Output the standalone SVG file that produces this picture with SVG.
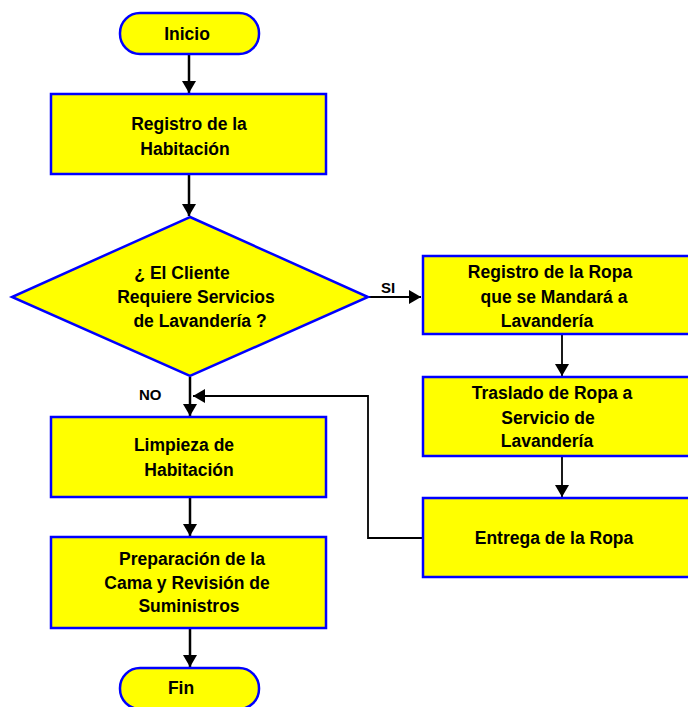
<svg xmlns="http://www.w3.org/2000/svg" width="688" height="707" viewBox="0 0 688 707">
<defs>
<marker id="ah" viewBox="0 0 12 14" refX="12" refY="7" markerWidth="12" markerHeight="14" markerUnits="userSpaceOnUse" orient="auto">
<path d="M0,0 L12,7 L0,14 Z" fill="#000"/>
</marker>
<style>
.n{fill:#FFFF00;stroke:#0000FF;stroke-width:2.5}
.t{font-family:"Liberation Sans",Arial,sans-serif;font-weight:bold;font-size:17.5px;fill:#000;text-anchor:middle}
.l{font-family:"Liberation Sans",Arial,sans-serif;font-weight:bold;font-size:15px;fill:#000}
.c{fill:none;stroke:#000;stroke-width:2.5;marker-end:url(#ah)}
.c2{fill:none;stroke:#000;stroke-width:1.8;marker-end:url(#ah)}
</style>
</defs>
<rect width="688" height="707" fill="#fff"/>
<g id="connectors">
<line class="c" x1="189" y1="55" x2="189" y2="93"/>
<line class="c" x1="189" y1="175" x2="189" y2="216"/>
<line class="c2" x1="368" y1="297" x2="421" y2="297"/>
<line class="c" x1="190" y1="377" x2="190" y2="416"/>
<line class="c2" x1="562" y1="335" x2="562" y2="376"/>
<line class="c2" x1="562" y1="457" x2="562" y2="497"/>
<polyline class="c2" points="423,538 368,538 368,396 193,396"/>
<line class="c" x1="190" y1="498" x2="190" y2="536"/>
<line class="c" x1="190" y1="629" x2="190" y2="667"/>
<text class="l" x="381" y="293">SI</text>
<text class="l" x="139" y="400">NO</text>
</g>
<g id="inicio">
<rect class="n" x="120" y="13" width="139" height="41" rx="20"/>
<text class="t" x="187" y="40">Inicio</text>
</g>
<g id="registro-habitacion">
<rect class="n" x="51" y="94" width="275" height="80"/>
<text class="t" x="189" y="130">Registro de la</text>
<text class="t" x="185" y="155">Habitación</text>
</g>
<g id="decision">
<polygon class="n" points="190,217 368,297 190,376 12,297"/>
<text class="t" x="182" y="279">¿ El Cliente</text>
<text class="t" x="196" y="303">Requiere Servicios</text>
<text class="t" x="200" y="327">de Lavandería ?</text>
</g>
<g id="registro-ropa">
<rect class="n" x="423" y="256" width="270" height="78"/>
<text class="t" x="550" y="278">Registro de la Ropa</text>
<text class="t" x="554" y="303">que se Mandará a</text>
<text class="t" x="547" y="327">Lavandería</text>
</g>
<g id="traslado">
<rect class="n" x="423" y="377" width="270" height="79"/>
<text class="t" x="552" y="399">Traslado de Ropa a</text>
<text class="t" x="548" y="424">Servicio de</text>
<text class="t" x="547" y="447">Lavandería</text>
</g>
<g id="entrega">
<rect class="n" x="423" y="498" width="270" height="79"/>
<text class="t" x="554" y="544">Entrega de la Ropa</text>
</g>
<g id="limpieza">
<rect class="n" x="51" y="417" width="275" height="80"/>
<text class="t" x="184" y="451">Limpieza de</text>
<text class="t" x="189" y="476">Habitación</text>
</g>
<g id="preparacion">
<rect class="n" x="51" y="537" width="275" height="91"/>
<text class="t" x="192" y="565">Preparación de la</text>
<text class="t" x="187" y="589">Cama y Revisión de</text>
<text class="t" x="189" y="612">Suministros</text>
</g>
<g id="fin">
<rect class="n" x="120" y="668" width="139" height="41" rx="20"/>
<text class="t" x="181" y="694">Fin</text>
</g>
</svg>
